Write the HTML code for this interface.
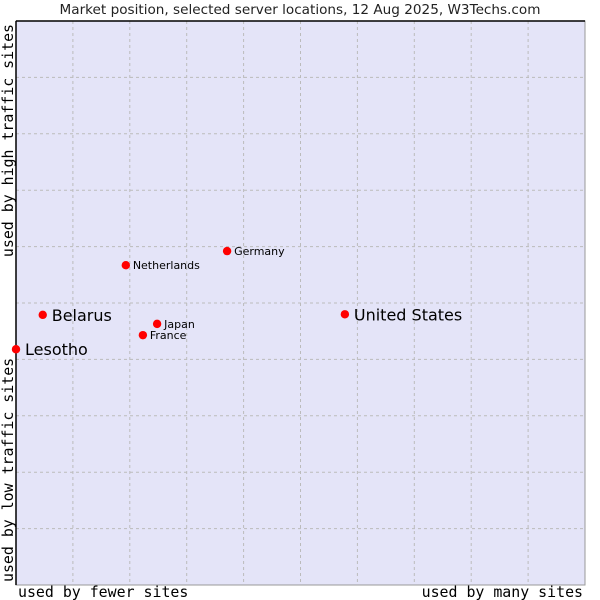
<!DOCTYPE html>
<html><head><meta charset="utf-8"><style>
html,body{margin:0;padding:0;background:#fff;}
svg{display:block;}
</style></head><body>
<svg id="chart" width="600" height="600" xmlns="http://www.w3.org/2000/svg">
<text x="300" y="14" text-anchor="middle" font-family="DejaVu Sans, Liberation Sans, sans-serif" font-size="13.6" fill="#222">Market position, selected server locations, 12 Aug 2025, W3Techs.com</text>
<rect x="16" y="21" width="569" height="564" fill="#e4e4f8" stroke="#999" stroke-width="1"/>
<g id="grid"></g>
<line x1="16" y1="21" x2="16" y2="585" stroke="#000" stroke-width="1.5"/>
<line x1="16" y1="21" x2="585" y2="21" stroke="#000" stroke-width="1.5"/>
<g id="points"></g>
<text x="18" y="597" font-family="DejaVu Sans Mono, Liberation Mono, monospace" font-size="14.9" fill="#000">used by fewer sites</text>
<text x="583" y="597" text-anchor="end" font-family="DejaVu Sans Mono, Liberation Mono, monospace" font-size="14.9" fill="#000">used by many sites</text>
<text transform="translate(13,582) rotate(-90)" font-family="DejaVu Sans Mono, Liberation Mono, monospace" font-size="14.9" fill="#000">used by low traffic sites</text>
<text transform="translate(13,24) rotate(-90)" text-anchor="end" font-family="DejaVu Sans Mono, Liberation Mono, monospace" font-size="14.9" fill="#000">used by high traffic sites</text>
</svg>
<script>
const names = ["United States","Belarus","Lesotho","Netherlands","Germany","Japan","France"];
const xValues = [57.8,4.7,0,19.3,37.1,24.8,22.3];
const yValues = [48.0,47.9,41.8,56.7,59.2,46.3,44.3];
const bigLabel = [true,true,true,false,false,false,false];
const gridTicks = [1,2,3,4,5,6,7,8,9];

const NS="http://www.w3.org/2000/svg";
const L=16,T=21,W=569,H=564;
const sx=v=>L+v/100*W;
const sy=v=>T+H-v/100*H;
const grid=document.getElementById('grid');
gridTicks.forEach(t=>{
  const v=document.createElementNS(NS,'line');
  v.setAttribute('x1',sx(t*10));v.setAttribute('x2',sx(t*10));
  v.setAttribute('y1',T);v.setAttribute('y2',T+H);
  v.setAttribute('stroke','#bbb');v.setAttribute('stroke-dasharray','3,3');
  
  
  grid.appendChild(v);
  const h=document.createElementNS(NS,'line');
  h.setAttribute('y1',sy(t*10));h.setAttribute('y2',sy(t*10));
  h.setAttribute('x1',L);h.setAttribute('x2',L+W);
  h.setAttribute('stroke','#bbb');h.setAttribute('stroke-dasharray','3,3');
  
  
  grid.appendChild(h);
});
const pts=document.getElementById('points');
names.forEach((n,i)=>{
  const x=sx(xValues[i]),y=sy(yValues[i]);
  const c=document.createElementNS(NS,'circle');
  c.setAttribute('cx',x);c.setAttribute('cy',y);c.setAttribute('r',4.2);
  c.setAttribute('fill','#ff0000');
  
  
  pts.appendChild(c);
  const t=document.createElementNS(NS,'text');
  t.setAttribute('x',x+(bigLabel[i]?9:7));
  t.setAttribute('y',y+(bigLabel[i]?6:4));
  t.setAttribute('font-family','DejaVu Sans, Liberation Sans, sans-serif');
  t.setAttribute('font-size',bigLabel[i]?16:11);
  t.setAttribute('fill','#000');
  t.textContent=n;
  
  
  pts.appendChild(t);
});
</script>
</body></html>
